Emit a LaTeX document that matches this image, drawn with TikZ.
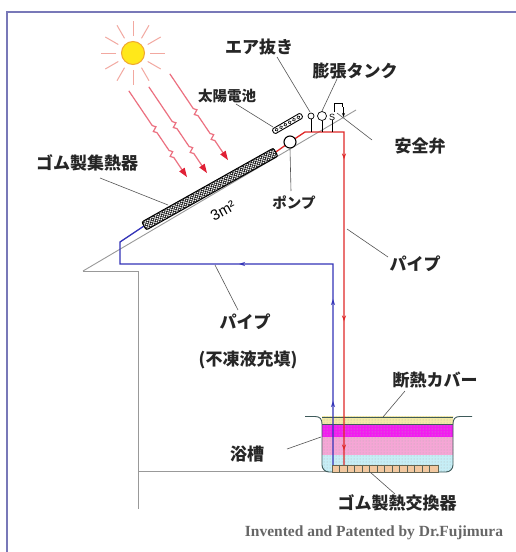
\documentclass[tikz,border=0pt]{standalone}
\usepackage{fontspec}
\newfontfamily\jp{Noto Sans CJK JP}
\newfontfamily\lsans{Liberation Sans}
\newfontfamily\tms{Liberation Serif}
\usetikzlibrary{arrows.meta,decorations.markings,patterns,calc}

\definecolor{framec}{HTML}{7878B8}
\definecolor{rayc}{HTML}{F2A8A0}
\definecolor{sunfill}{HTML}{FFE81A}
\definecolor{sunline}{HTML}{F0A830}
\definecolor{boltc}{HTML}{EC7080}
\definecolor{bolttip}{HTML}{E02035}
\definecolor{roofc}{HTML}{999999}
\definecolor{hotc}{HTML}{E02828}
\definecolor{coldc}{HTML}{3434B8}
\definecolor{leadc}{HTML}{555555}
\definecolor{coverc}{HTML}{F3EAA6}
\definecolor{magc}{HTML}{F21CF0}
\definecolor{pinkc}{HTML}{F6A6D6}
\definecolor{cyanc}{HTML}{C6EEF6}
\definecolor{hxc}{HTML}{F2C8A0}
\definecolor{tubc}{HTML}{3E5A5A}

\tikzset{
  bolt/.pic={
    \draw[boltc, line width=1.2] (0,0) -- (42,0) -- (45,-2.4) -- (47.5,2.4) -- (50.5,0)
      -- (72,0) -- (75,-2.4) -- (77.5,2.4) -- (80.5,0) -- (97,0);
    \fill[bolttip] (104,0) -- (95,-3.3) -- (95,3.3) -- cycle;
  }
}

\begin{document}
\begin{tikzpicture}[x=1pt,y=-1pt,
  lbl/.style={font=\jp\bfseries\fontsize{17}{17}\selectfont, inner sep=0pt, text=black!85},
  lblsmall/.style={font=\jp\bfseries\fontsize{14.5}{15}\selectfont, inner sep=0pt, text=black!85},
  leader/.style={draw=leadc, line width=0.6},
  roofline/.style={draw=roofc, line width=0.9},
  pipehot/.style={draw=hotc, line width=1.3},
  pipecold/.style={draw=coldc, line width=1.3}
]
\useasboundingbox (0,0) rectangle (516,552);
\fill[white] (0,0) rectangle (516,552);

% frame edges
\draw[framec, line width=1.6] (7,552) -- (7,12) -- (516,12);

% sun and its rays
\coordinate (sun) at (133,53);
\foreach \a in {0,30,...,330}
  \draw[rayc, line width=1] ($(sun)+(\a:17)$) -- ($(sun)+(\a:32)$);
\node[circle, fill=sunfill, draw=sunline, line width=1, minimum size=23pt, inner sep=0pt] (suncore) at (sun) {};

% radiation arrows
\pic[rotate=-56] at (128.8,90.8) {bolt};
\pic[rotate=-56] at (148.8,86.8) {bolt};
\pic[rotate=-56] at (169.8,73.8) {bolt};

% house outline
\coordinate (eave) at (83,271);
\coordinate (ridge) at (356,110);
\coordinate (wallTop) at (138,271);
\coordinate (wallBot) at (138,509);
\coordinate (floorL) at (138,471);
\coordinate (floorR) at (330,471);
\draw[roofline] (eave) -- (ridge);
\draw[roofline] (eave) -- (wallTop) -- (wallBot);
\draw[roofline] (floorL) -- (floorR);

% bathtub contents
\begin{scope}
  \clip (322,416) -- (322,465) arc[start angle=180,end angle=90,radius=7]
        -- (446,472) arc[start angle=90,end angle=0,radius=7] -- (453,416) -- cycle;
  \fill[coverc] (318,416) rectangle (457,424);
  \fill[magc] (318,424) rectangle (457,437);
  \fill[pinkc] (318,437) rectangle (457,455);
  \fill[cyanc] (318,455) rectangle (457,476);
  \fill[pattern=dots, pattern color=black!30] (318,416) rectangle (457,476);
  \draw[tubc, line width=0.6] (318,424) -- (457,424);
\end{scope}
\draw[tubc, line width=0.9] (305,416.5) -- (315,416.5) .. controls (320,416.5) and (322,419) .. (322,424)
  -- (322,465) arc[start angle=180,end angle=90,radius=7] -- (446,472)
  arc[start angle=90,end angle=0,radius=7] -- (453,424)
  .. controls (453,419) and (455,416.5) .. (460,416.5) -- (472,416.5);
\draw[tubc, line width=0.7] (322,417) -- (453,417);

% pipe route points
\coordinate (colLo) at (144,226);
\coordinate (colHi) at (275.7,152.1);
\coordinate (pumpC) at (290,142);
\coordinate (hotA) at (305,132);
\coordinate (hotB) at (344,132);
\coordinate (hotC) at (344,465);
\coordinate (coldA) at (333,465);
\coordinate (coldB) at (333,264);
\coordinate (coldC) at (120,264);
\coordinate (coldD) at (120,242);

% hot return pipe
\draw[pipehot, postaction={decorate}, decoration={markings,
    mark=at position 102pt with {\arrow[hotc]{Stealth[length=6pt,width=4pt]}},
    mark=at position 264pt with {\arrow[hotc]{Stealth[length=6pt,width=4pt]}},
    mark=at position 393pt with {\arrow[hotc]{Stealth[length=6pt,width=4pt]}}}]
  (colHi) -- (pumpC) -- (hotA) -- (hotB) -- (hotC);

% cold feed pipe
\draw[pipecold, postaction={decorate}, decoration={markings,
    mark=at position 64pt with {\arrow[coldc]{Stealth[length=6pt,width=4pt]}},
    mark=at position 166pt with {\arrow[coldc]{Stealth[length=6pt,width=4pt]}},
    mark=at position 295pt with {\arrow[coldc]{Stealth[length=6pt,width=4pt]}}}]
  (coldA) -- (coldB) -- (coldC) -- (coldD) -- (colLo);

% rubber heat exchanger in the tub
\fill[hxc] (332,465) rectangle (438,472);
\foreach \u in {339.5,347,...,432} \draw[tubc!80!brown, line width=0.5] (\u,465) -- (\u,472);
\draw[tubc!70!brown, line width=0.9] (332,465) rectangle (438,472);

% rubber collector on the roof
\begin{scope}[shift={(144,226)}, rotate=29.3]
  \fill[white] (0,-4.6) rectangle (151,4.6);
  \begin{scope}
    \clip (0,-4.6) rectangle (151,4.6);
    \foreach \i in {-12,-9,...,156} {
      \draw[line width=0.5] (\i,-4.6) -- (\i+9.2,4.6);
      \draw[line width=0.5] (\i,4.6) -- (\i+9.2,-4.6);
    }
  \end{scope}
  \draw[line width=1, rounded corners=2] (0,-4.6) rectangle (151,4.6);
\end{scope}

% pump
\node[circle, draw, fill=white, line width=1.1, minimum size=12pt, inner sep=0pt] (pump) at (pumpC) {};

% solar cell panel
\begin{scope}[shift={(287.5,123.5)}, rotate=30]
  \draw[fill=white, line width=0.9, rounded corners=1.5] (-16.5,-2.8) rectangle (16.5,2.8);
  \foreach \u in {-12.5,-7.5,...,12.5} \draw[line width=0.6] (\u,0) circle[radius=1.5];
\end{scope}

% air vent, expansion tank and safety valve
\node[circle, draw, line width=0.7, minimum size=6pt, inner sep=0pt] (vent) at (311,116) {};
\node[circle, draw, line width=0.7, minimum size=9pt, inner sep=0pt] (tank) at (322,116) {};
\node[font=\lsans\fontsize{9}{9}\selectfont, inner sep=0pt] (valve) at (332,117) {S};
\draw[line width=0.7] (vent.south) -- (311,132);
\draw[line width=0.7] (tank.south) -- (322,132);
\draw[line width=0.7] (valve.south) -- (332,132);
\draw[line width=0.8] (334,112) -- (334,103.5) -- (342,103.5) -- (342,107);
\draw[line width=0.7, -{Stealth[length=4pt,width=3pt]}] (343.5,107) -- (343.5,117);

% labels
\node[lbl] (lblAir) at (259,47) {エア抜き};
\node[lbl] (lblExp) at (355,71) {膨張タンク};
\node[lbl] (lblSafe) at (420,146) {安全弁};
\node[lblsmall] (lblCell) at (227,96) {太陽電池};
\node[lbl] (lblCol) at (87,163) {ゴム製集熱器};
\node[lblsmall] (lblPump) at (294,203) {ポンプ};
\node[lbl] (lblPipeR) at (415,264) {パイプ};
\node[lbl] (lblPipeL) at (245,322) {パイプ};
\node[lbl] (lblAnti) at (248,360) {(不凍液充填)};
\node[lbl] (lblCover) at (435,380) {断熱カバー};
\node[lbl] (lblTub) at (247,454) {浴槽};
\node[lbl] (lblHx) at (397,503) {ゴム製熱交換器};
\node[font=\lsans\fontsize{15}{15}\selectfont, inner sep=0pt, rotate=29] (lblArea) at (223,211) {3m²};
\node[font=\tms\bfseries\fontsize{15.5}{16}\selectfont, text=black!60, inner sep=0pt] (credit) at (374,533) {Invented and Patented by Dr.Fujimura};

% leader lines
\coordinate (airA) at (277,57);   \coordinate (airB) at (310,112);
\coordinate (expA) at (337,79);   \coordinate (expB) at (322,111);
\coordinate (safeA) at (372,140); \coordinate (safeB) at (337,113);
\coordinate (cellA) at (236,104); \coordinate (cellB) at (273,127);
\coordinate (colA) at (100,178);  \coordinate (colB) at (168,205);
\coordinate (pumpL) at (291,191);
\coordinate (pipeRA) at (347,229); \coordinate (pipeRB) at (388,257);
\coordinate (pipeLA) at (215,265); \coordinate (pipeLB) at (238,310);
\coordinate (coverA) at (383,417); \coordinate (coverB) at (405,391);
\coordinate (tubA) at (287,449);  \coordinate (tubB) at (321,437);
\coordinate (hxA) at (370,472);   \coordinate (hxB) at (395,494);
\draw[leader] (airA) -- (airB);
\draw[leader] (expA) -- (expB);
\draw[leader] (safeA) -- (safeB);
\draw[leader] (cellA) -- (cellB);
\draw[leader] (colA) -- (colB);
\draw[leader] (pump.south) -- (pumpL);
\draw[leader] (pipeRA) -- (pipeRB);
\draw[leader] (pipeLA) -- (pipeLB);
\draw[leader] (coverA) -- (coverB);
\draw[leader] (tubA) -- (tubB);
\draw[leader] (hxA) -- (hxB);
\end{tikzpicture}
\end{document}
